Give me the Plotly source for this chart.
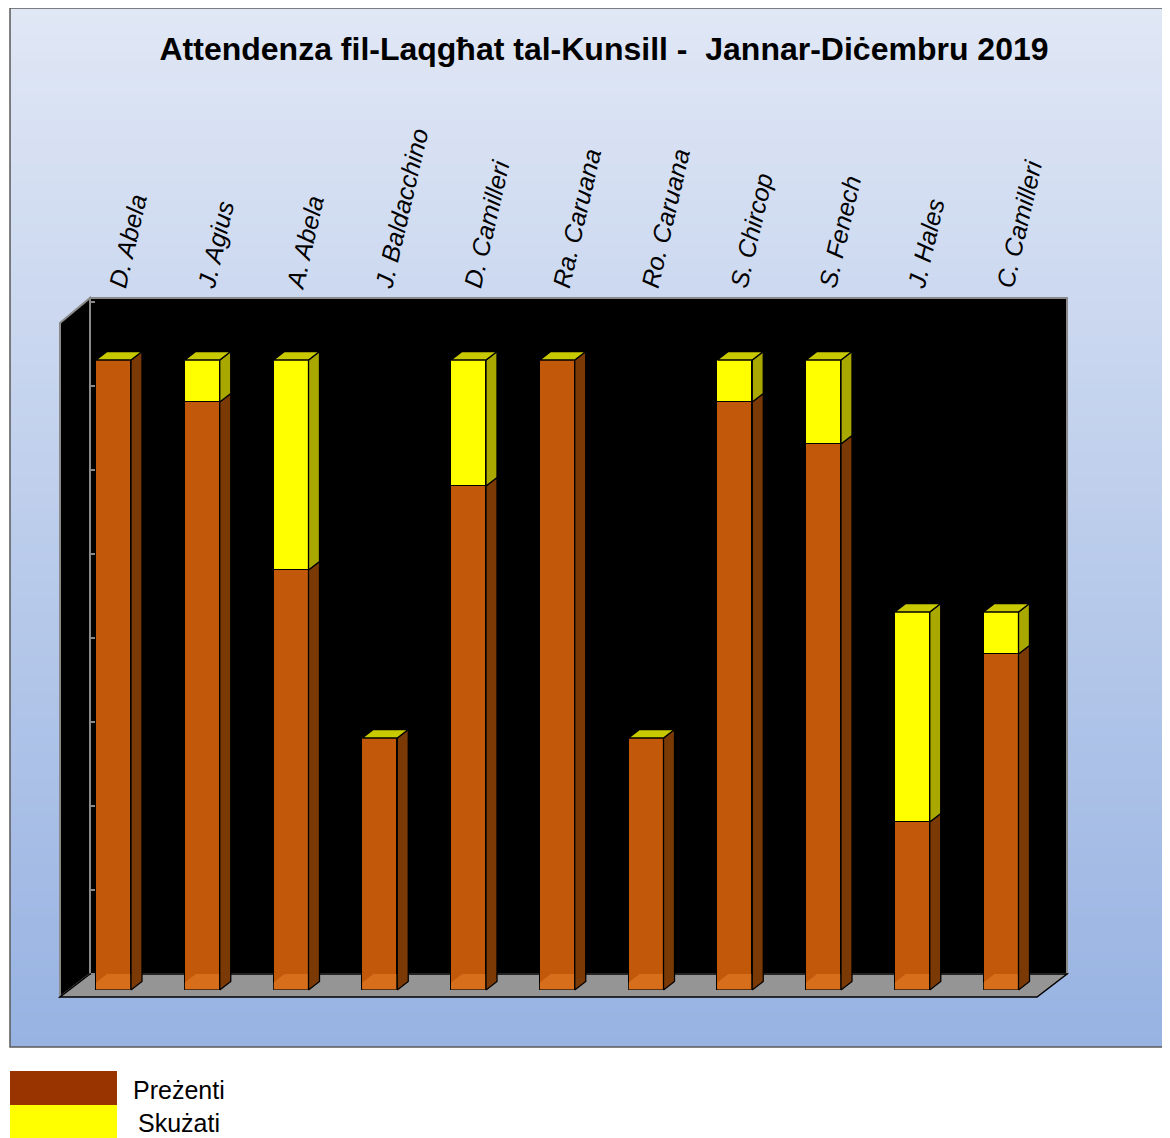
import plotly.graph_objects as go

# ---------------- data ----------------
names = ["D. Abela", "J. Agius", "A. Abela", "J. Baldacchino", "D. Camilleri",
         "Ra. Caruana", "Ro. Caruana", "S. Chircop", "S. Fenech", "J. Hales",
         "C. Camilleri"]
prezenti = [15, 14, 10, 6, 12, 15, 6, 14, 13, 4, 8]
skuzati = [0, 1, 5, 0, 3, 0, 0, 1, 2, 5, 1]
series_names = ["Preżenti", "Skużati"]
title_text = "Attendenza fil-Laqgħat tal-Kunsill -  Jannar-Diċembru 2019"

# ---------------- geometry (pixels of the 1170x1138 screenshot) ----------------
W, H = 1170, 1138
OFF = 8  # page body margin: figure starts 8px right/down in the screenshot
PL, PR, PT, PB = 60, 1067, 298, 997          # plot area (screenshot px)
X_UNIT, X0PIX = 88.75, 113.5                  # px per category, first center
Y_UNIT, Y0PIX = 42.0, 990.0                   # px per value unit, value 0
xr = [(PL - X0PIX) / X_UNIT, (PR - X0PIX) / X_UNIT]
yr = [(Y0PIX - PB) / Y_UNIT, (Y0PIX - PT) / Y_UNIT]
bw = 35 / X_UNIT
dx = 11 / X_UNIT
dy = 8.5 / Y_UNIT
back_shift = (Y0PIX - 974) / Y_UNIT


def P(px, py):
    return (px - PL) / (PR - PL), (PB - py) / (PB - PT)


def path(points):
    s = ""
    for k, (px, py) in enumerate(points):
        x, y = P(px, py)
        s += ("M" if k == 0 else "L") + f"{x:.5f},{y:.5f} "
    return s + "Z"


idx = list(range(len(names)))
totals = [p + s for p, s in zip(prezenti, skuzati)]

C_OR = "#c2590a"
C_OR_SIDE = "#7b3a05"
C_YE = "#ffff00"
C_YE_SIDE = "#a8a800"
C_TOP = "#c9c900"

fig = go.Figure()

fig.add_trace(go.Bar(x=idx, y=prezenti, width=bw, name=series_names[0],
                     marker=dict(color=C_OR, line=dict(color="black", width=1.3)),
                     showlegend=False))
fig.add_trace(go.Bar(x=idx, y=skuzati, width=bw, name=series_names[1],
                     marker=dict(color=C_YE, line=dict(color="black", width=1.3)),
                     showlegend=False))


def side_poly(vals0, vals1):
    xs, ys = [], []
    for i, a, b in zip(idx, vals0, vals1):
        if b <= a:
            continue
        r = i + bw / 2
        xs += [r, r + dx, r + dx, r, r, None]
        ys += [a, a + dy, b + dy, b, a, None]
    return xs, ys


# lighter bottom part of the bars (floor seen through)
bx, by = [], []
for i in idx:
    l, r = i - bw / 2, i + bw / 2
    bx += [l, r, r + dx, r + dx, l + dx, l, l, None]
    by += [0, 0, dy, back_shift, back_shift, back_shift - dy, 0, None]
fig.add_trace(go.Scatter(x=bx, y=by, fill="toself", mode="lines",
                         fillcolor="rgba(255,150,60,0.35)", line=dict(width=0),
                         hoverinfo="skip", showlegend=False))

sx, sy = side_poly([0] * len(idx), prezenti)
fig.add_trace(go.Scatter(x=sx, y=sy, fill="toself", mode="lines",
                         fillcolor=C_OR_SIDE, line=dict(color="black", width=1.3),
                         hoverinfo="skip", showlegend=False))
sx, sy = side_poly(prezenti, totals)
fig.add_trace(go.Scatter(x=sx, y=sy, fill="toself", mode="lines",
                         fillcolor=C_YE_SIDE, line=dict(color="black", width=1.3),
                         hoverinfo="skip", showlegend=False))
tx, ty = [], []
for i, t in zip(idx, totals):
    l, r = i - bw / 2, i + bw / 2
    tx += [l, l + dx, r + dx, r, l, None]
    ty += [t, t + dy, t + dy, t, t, None]
fig.add_trace(go.Scatter(x=tx, y=ty, fill="toself", mode="lines",
                         fillcolor=C_TOP, line=dict(color="black", width=1.3),
                         hoverinfo="skip", showlegend=False))

# invisible trace to carry the back-wall value axis
fig.add_trace(go.Scatter(x=[0], y=[0], yaxis="y2", mode="markers",
                         marker=dict(opacity=0), hoverinfo="skip", showlegend=False))

# ---------------- shapes: background, walls, floor, legend ----------------
shapes = []
top_c = (0xe0, 0xe7, 0xf5)
bot_c = (0x98, 0xb3, 0xe2)
bx0, bx1, by0, by1 = 10, 1185, 8, 1047
n = 120
for k in range(n):
    f = k / (n - 1)
    c = tuple(int(round(top_c[j] + (bot_c[j] - top_c[j]) * f)) for j in range(3))
    ya = by0 + (by1 - by0) * k / n
    yb = by0 + (by1 - by0) * (k + 1) / n + 0.8
    x0, y0 = P(bx0, min(yb, by1))
    x1, y1 = P(bx1, ya)
    shapes.append(dict(type="rect", xref="paper", yref="paper", x0=x0, x1=x1,
                       y0=y0, y1=y1, fillcolor=f"rgb{c}", line=dict(width=0),
                       layer="below"))
x0, y0 = P(bx0, by1)
x1, y1 = P(bx1, by0)
shapes.append(dict(type="rect", xref="paper", yref="paper", x0=x0, x1=x1, y0=y0, y1=y1,
                   fillcolor="rgba(0,0,0,0)", line=dict(color="#5a5a5a", width=1.5),
                   layer="below"))
# back wall
shapes.append(dict(type="path", xref="paper", yref="paper",
                   path=path([(90, 298), (1067, 298), (1067, 974), (90, 974)]),
                   fillcolor="black", line=dict(color="#8a8a8a", width=2), layer="below"))
# left wall
shapes.append(dict(type="path", xref="paper", yref="paper",
                   path=path([(60, 323), (90, 298), (90, 974), (60, 997)]),
                   fillcolor="black", line=dict(color="#8a8a8a", width=2), layer="below"))
# floor
shapes.append(dict(type="path", xref="paper", yref="paper",
                   path=path([(90, 974), (1067, 974), (1037, 997), (60, 997)]),
                   fillcolor="#959595", line=dict(color="black", width=1.5), layer="below"))
# legend swatches
for (yt, yb_, col) in [(1071, 1105, "#993300"), (1105, 1140, "#ffff00")]:
    x0, y0 = P(10, yb_)
    x1, y1 = P(117, yt)
    shapes.append(dict(type="rect", xref="paper", yref="paper", x0=x0, x1=x1,
                       y0=y0, y1=y1, fillcolor=col, line=dict(width=0)))

annotations = []
for (lx, ly, txt) in [(131, 1090, series_names[0]), (136, 1123, series_names[1])]:
    ax, ay = P(lx, ly)
    annotations.append(dict(x=ax, y=ay, xref="paper", yref="paper", text=txt,
                            showarrow=False, xanchor="left", yanchor="middle",
                            font=dict(family="Arial, Liberation Sans", size=25,
                                      color="black")))

fig.update_layout(
    width=W, height=H,
    margin=dict(l=PL - OFF, r=W - (PR - OFF), t=PT - OFF, b=H - (PB - OFF), pad=0),
    paper_bgcolor="white", plot_bgcolor="rgba(0,0,0,0)",
    barmode="stack", bargap=0,
    title=dict(text=f"<b>{title_text}</b>", x=(604 - OFF) / W, xref="container",
               xanchor="center", y=1 - (49 - OFF) / H, yref="container",
               yanchor="middle",
               font=dict(family="Arial, Liberation Sans", size=32, color="black")),
    xaxis=dict(range=xr, tickvals=idx, ticktext=names, side="top", tickangle=-77,
               tickfont=dict(family="Arial, Liberation Sans", size=25, color="black",
                             style="italic"),
               ticklabelstandoff=-7,
               showgrid=False, zeroline=False, showline=False, ticks="",
               fixedrange=True),
    yaxis=dict(range=yr, showticklabels=False, showgrid=False, zeroline=False,
               showline=False, ticks="", fixedrange=True),
    yaxis2=dict(overlaying="y", anchor="free", position=(90 - PL) / (PR - PL),
                range=[yr[0] - back_shift, yr[1] - back_shift],
                ticks="inside", ticklen=4, tickwidth=1.5, tickcolor="#8a8a8a",
                dtick=2, tick0=0, showticklabels=False, showgrid=False,
                zeroline=False, showline=False, fixedrange=True),
    shapes=shapes, annotations=annotations, showlegend=False,
)

fig.write_html("out.html")
